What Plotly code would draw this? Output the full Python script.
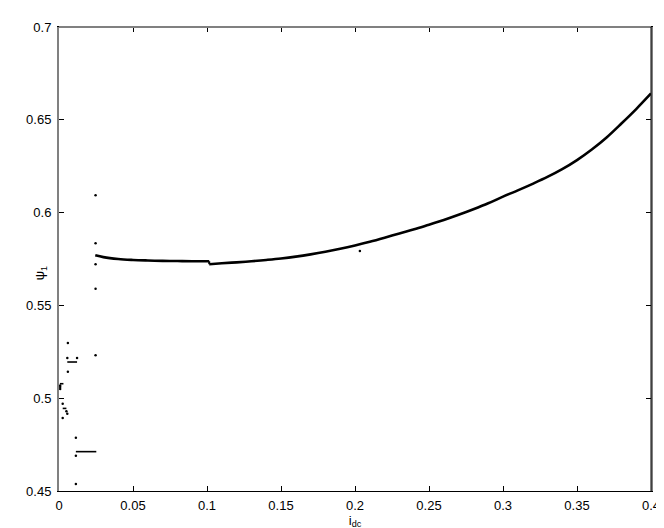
import plotly.graph_objects as go

# Upper-left branch
branch1_x = [0.0245, 0.03, 0.04, 0.05, 0.06, 0.07, 0.08, 0.09, 0.1015]
branch1_y = [0.5770, 0.5760, 0.5750, 0.5745, 0.5742, 0.5740, 0.5739, 0.5738, 0.5738]

# Main rising branch
branch2_x = [0.1015, 0.11, 0.12, 0.13, 0.14, 0.15, 0.16, 0.17, 0.18, 0.19,
             0.20, 0.21, 0.22, 0.23, 0.24, 0.25, 0.26, 0.27, 0.28, 0.29,
             0.30, 0.31, 0.32, 0.33, 0.34, 0.35, 0.36, 0.37, 0.38, 0.39, 0.40]
branch2_y = [0.5722, 0.5727, 0.5732, 0.5738, 0.5745, 0.5753, 0.5763, 0.5775, 0.5789, 0.5805,
             0.5823, 0.5843, 0.5865, 0.5888, 0.5910, 0.5935, 0.5960, 0.5988, 0.6018, 0.6050,
             0.6086, 0.6120, 0.6155, 0.6192, 0.6234, 0.6283, 0.6340, 0.6405, 0.6480, 0.6558, 0.6642]

# Short horizontal bands (x start, x end, y)
band_x0 = [0.0056, 0.0025, 0.0114, 0.0006]
band_x1 = [0.0122, 0.0050, 0.0252, 0.0030]
band_y = [0.5195, 0.4945, 0.4712, 0.5078]

# Isolated points
dots_x = [0.0247, 0.0247, 0.0247, 0.0247, 0.0247,
          0.0060, 0.0056, 0.0122, 0.0060,
          0.0008, 0.0008, 0.0008,
          0.0025, 0.0025, 0.0056, 0.0050,
          0.0114, 0.0114, 0.0114,
          0.2033]
dots_y = [0.6093, 0.5835, 0.5722, 0.5590, 0.5232,
          0.5298, 0.5216, 0.5216, 0.5142,
          0.5060, 0.5050, 0.5068,
          0.4970, 0.4893, 0.4916, 0.4930,
          0.4787, 0.4690, 0.4538,
          0.5793]

x_ticks = [0, 0.05, 0.1, 0.15, 0.2, 0.25, 0.3, 0.35, 0.4]
x_ticklabels = ["0", "0.05", "0.1", "0.15", "0.2", "0.25", "0.3", "0.35", "0.4"]
y_ticks = [0.45, 0.5, 0.55, 0.6, 0.65, 0.7]
y_ticklabels = ["0.45", "0.5", "0.55", "0.6", "0.65", "0.7"]

bx, by = [], []
for a, b, y in zip(band_x0, band_x1, band_y):
    bx += [a, b, None]
    by += [y, y, None]

fig = go.Figure()
fig.add_trace(go.Scatter(x=branch1_x, y=branch1_y, mode="lines",
                         line=dict(color="black", width=2.6, shape="spline"), showlegend=False))
fig.add_trace(go.Scatter(x=[branch1_x[-1], branch2_x[0]], y=[branch1_y[-1], branch2_y[0]],
                         mode="lines", line=dict(color="black", width=2), showlegend=False))
fig.add_trace(go.Scatter(x=branch2_x, y=branch2_y, mode="lines",
                         line=dict(color="black", width=2.6, shape="spline", smoothing=1.0),
                         showlegend=False))
fig.add_trace(go.Scatter(x=bx, y=by, mode="lines",
                         line=dict(color="black", width=1.6), showlegend=False))
fig.add_trace(go.Scatter(x=dots_x, y=dots_y, mode="markers",
                         marker=dict(color="black", size=2.5), showlegend=False))

font = dict(family="Liberation Sans, Arial, sans-serif", size=13, color="black")

fig.update_layout(
    width=664, height=528,
    margin=dict(l=51, r=15, t=14, b=41),
    plot_bgcolor="white", paper_bgcolor="white",
    font=font,
    xaxis=dict(range=[0, 0.4], tickvals=x_ticks, ticktext=x_ticklabels,
               ticks="inside", ticklen=5, tickcolor="black", tickwidth=1,
               showline=True, linecolor="black", linewidth=1, mirror="ticks",
               showgrid=False, zeroline=False, ticklabelstandoff=2,
               title=dict(text="i<sub>dc</sub>", standoff=2, font=font)),
    yaxis=dict(range=[0.45, 0.7], tickvals=y_ticks, ticktext=y_ticklabels,
               ticks="inside", ticklen=5, tickcolor="black", tickwidth=1,
               showline=True, linecolor="#808080", linewidth=2, mirror="ticks",
               showgrid=False, zeroline=False, ticklabelstandoff=3),
    annotations=[
        dict(text="ψ<sub>1</sub>", xref="paper", yref="paper", x=-0.030, y=0.47,
             xanchor="center", yanchor="middle", textangle=-90, showarrow=False, font=font),
    ],
    shapes=[
        dict(type="line", xref="paper", yref="paper", x0=0, x1=1, y0=1, y1=1,
             line=dict(color="#808080", width=2), layer="above"),
        dict(type="line", xref="paper", yref="paper", x0=1, x1=1, y0=0, y1=1,
             line=dict(color="black", width=1), layer="above"),
    ],
)

fig.write_html("out.html")
